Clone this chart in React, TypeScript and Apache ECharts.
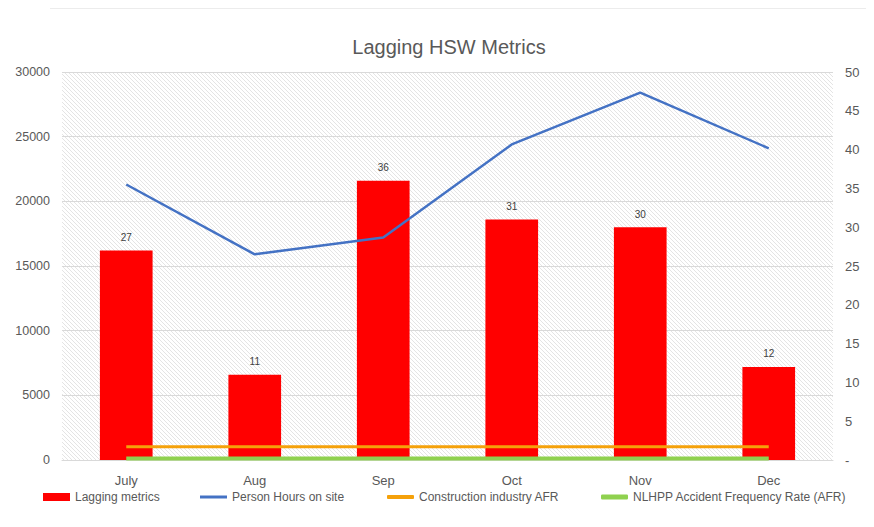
import React, { useEffect, useRef } from "react";
import * as echarts from "echarts";

const categories = ["July", "Aug", "Sep", "Oct", "Nov", "Dec"];
const laggingMetrics = [27, 11, 36, 31, 30, 12];
const personHours = [21300, 15900, 17200, 24400, 28400, 24100];
const constructionAFR = [1.7, 1.7, 1.7, 1.7, 1.7, 1.7];
const nlhppAFR = [0.2, 0.2, 0.2, 0.2, 0.2, 0.2];
const leftTicks = { min: 0, max: 30000, interval: 5000 };
const rightTicks = { min: 0, max: 50, interval: 5 };

function makeHatch(): string {
  const c = document.createElement("canvas");
  c.width = 4;
  c.height = 4;
  const ctx = c.getContext("2d");
  if (!ctx) return "";
  ctx.fillStyle = "#ffffff";
  ctx.fillRect(0, 0, 4, 4);
  ctx.strokeStyle = "#e4e4e4";
  ctx.lineWidth = 1;
  ctx.beginPath();
  ctx.moveTo(-1, -1);
  ctx.lineTo(5, 5);
  ctx.moveTo(-1, 3);
  ctx.lineTo(1, 5);
  ctx.moveTo(3, -1);
  ctx.lineTo(5, 1);
  ctx.stroke();
  return c.toDataURL();
}

export default function App() {
  const ref = useRef<HTMLDivElement>(null);
  useEffect(() => {
    if (!ref.current) return;
    const chart = echarts.init(ref.current, undefined, { renderer: "svg" });
    const hatch = makeHatch();
    const font = "Liberation Sans";
    const txt = "#595959";
    const legendBase = {
      top: 491,
      padding: 0,
      itemWidth: 27,
      itemGap: 5,
      textStyle: { color: txt, fontSize: 12, fontFamily: font },
    };
    chart.setOption({
      animation: false,
      backgroundColor: "#ffffff",
      title: {
        text: "Lagging HSW Metrics",
        left: 444,
        textAlign: "center",
        top: 32,
        textStyle: { color: "#595959", fontSize: 20, fontWeight: "normal", fontFamily: font },
      },
      graphic: [
        {
          type: "line",
          shape: { x1: 50, y1: 8, x2: 866, y2: 8 },
          style: { stroke: "#d9d9d9", lineWidth: 1 },
        },
      ],
      legend: [
        { ...legendBase, left: 43, itemHeight: 8, data: [{ name: "Lagging metrics", icon: "rect" }] },
        { ...legendBase, left: 200, itemHeight: 3, data: [{ name: "Person Hours on site", icon: "rect" }] },
        { ...legendBase, left: 387, itemHeight: 4, data: [{ name: "Construction industry AFR", icon: "roundRect" }] },
        { ...legendBase, left: 601, itemHeight: 5, data: [{ name: "NLHPP Accident Frequency Rate (AFR)", icon: "roundRect" }] },
      ],
      grid: {
        left: 62,
        right: 41,
        top: 72,
        bottom: 67,
        show: true,
        borderWidth: 0,
        backgroundColor: hatch ? { image: hatch, repeat: "repeat" } : "#f2f2f2",
      },
      xAxis: {
        type: "category",
        data: categories,
        axisLine: { show: true, lineStyle: { color: "#d9d9d9" } },
        axisTick: { show: false },
        axisLabel: { color: txt, fontSize: 13, fontFamily: font, margin: 14 },
      },
      yAxis: [
        {
          type: "value",
          ...leftTicks,
          axisLine: { show: false },
          axisTick: { show: false },
          axisLabel: {
            color: txt,
            fontSize: 12.5,
            fontFamily: font,
            margin: 12,
            formatter: (v: number) => String(v),
          },
          splitLine: { lineStyle: { color: "#d9d9d9", width: 1 } },
        },
        {
          type: "value",
          ...rightTicks,
          axisLine: { show: false },
          axisTick: { show: false },
          axisLabel: {
            color: txt,
            fontSize: 13,
            fontFamily: font,
            margin: 12,
            formatter: (v: number) => (v === 0 ? "-" : String(v)),
          },
          splitLine: { show: false },
        },
      ],
      series: [
        {
          name: "Lagging metrics",
          type: "bar",
          yAxisIndex: 1,
          data: laggingMetrics,
          barWidth: "41%",
          itemStyle: { color: "#ff0000" },
          label: {
            show: true,
            position: "top",
            distance: 8,
            color: "#404040",
            fontSize: 10,
            fontFamily: font,
          },
          z: 2,
        },
        {
          name: "Person Hours on site",
          type: "line",
          yAxisIndex: 0,
          data: personHours,
          symbol: "none",
          lineStyle: { color: "#4472c4", width: 2.5 },
          itemStyle: { color: "#4472c4" },
          z: 3,
        },
        {
          name: "Construction industry AFR",
          type: "line",
          yAxisIndex: 1,
          data: constructionAFR,
          symbol: "none",
          lineStyle: { color: "#f5a10a", width: 3 },
          itemStyle: { color: "#f5a10a" },
          z: 4,
        },
        {
          name: "NLHPP Accident Frequency Rate (AFR)",
          type: "line",
          yAxisIndex: 1,
          data: nlhppAFR,
          symbol: "none",
          lineStyle: { color: "#8fd14f", width: 4 },
          itemStyle: { color: "#8fd14f" },
          z: 4,
        },
      ],
    });
    return () => chart.dispose();
  }, []);
  return <div ref={ref} style={{ width: 874, height: 527, margin: -8 }} />;
}
